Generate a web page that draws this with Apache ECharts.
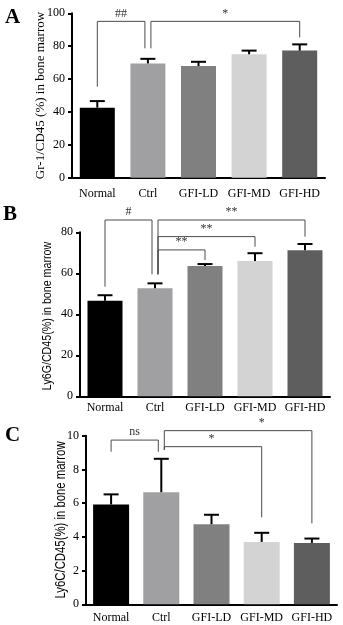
<!DOCTYPE html>
<html>
<head>
<meta charset="utf-8">
<script src="https://cdn.jsdelivr.net/npm/echarts@6/dist/echarts.min.js"></script>
<style>
html,body{margin:0;padding:0;background:#fff;}
#chart{width:343px;height:625px;}
</style>
</head>
<body>
<div id="chart"></div>
<script>
// ---- data ----
const groups = ['Normal', 'Ctrl', 'GFI-LD', 'GFI-MD', 'GFI-HD'];
const barColors = ['#000000', '#a0a0a2', '#808080', '#d3d3d3', '#5e5e5e'];

const meanA = [42.6, 69.5, 67.9, 75.1, 77.3];
const semA  = [4.0, 2.8, 2.6, 2.2, 3.8];
const meanB = [46.6, 52.7, 63.6, 66.0, 71.2];
const semB  = [2.7, 2.4, 0.9, 3.8, 3.1];
const meanC = [5.92, 6.65, 4.75, 3.70, 3.64];
const semC  = [0.60, 1.98, 0.56, 0.54, 0.26];

const ticksA = [0, 20, 40, 60, 80, 100];
const ticksB = [0, 20, 40, 60, 80];
const ticksC = [0, 2, 4, 6, 8, 10];

const titleA = 'Gr-1/CD45 (%) in bone marrow';
const titleB = 'Ly6G/CD45(%) in bone marrow';
const titleC = 'Ly6C/CD45(%) in bone marrow';

// significance brackets: compared groups, leg heights (axis units), mark
const bracketsA = [
  {from: 0, to: 1, left: 55.4, top: 95.1, right: 78.7, text: '##'},
  {from: 1, to: 4, left: 78.7, top: 95.1, right: 85.4, text: '*'}
];
const bracketsB = [
  {from: 0, to: 1, left: 53.5, top: 86.0, right: 59.5, text: '#'},
  {from: 1, to: 4, left: 59.5, top: 86.0, right: 77.9, text: '**'},
  {from: 1, to: 3, left: 59.5, top: 77.9, right: 73.0, text: '**'},
  {from: 1, to: 2, left: 59.5, top: 71.4, right: 66.5, text: '**'}
];
const bracketsC = [
  {from: 0, to: 1, left: 9.05, top: 9.74, right: 9.05, text: 'ns'},
  {from: 1, to: 4, left: 9.15, top: 10.3, right: 4.8, text: '*', at: 2.93},
  {from: 1, to: 3, left: 9.15, top: 9.35, right: 5.16, text: '*', at: 2.16}
];

// ---- chart ----
const serif = '"Liberation Serif", "Times New Roman", serif';
const sans = '"Liberation Sans", Arial, sans-serif';

const grids = [
  {left: 72, top: 13.3, width: 253, height: 164.4},
  {left: 80, top: 232.3, width: 250, height: 164},
  {left: 86, top: 435.7, width: 251, height: 168.6}
];

function xAxis(i, margin) {
  return {
    type: 'category', gridIndex: i, data: groups,
    axisLine: {lineStyle: {color: '#000', width: 2}},
    axisTick: {alignWithLabel: true, length: 4, lineStyle: {color: '#000', width: 2}},
    axisLabel: {color: '#000', fontFamily: serif, fontSize: 12, margin: margin, interval: 0}
  };
}
function yAxis(i, ticks, name, gap) {
  const ax = {
    type: 'value', gridIndex: i, min: ticks[0], max: ticks[ticks.length - 1],
    interval: ticks[1] - ticks[0],
    splitLine: {show: false},
    axisLine: {show: true, lineStyle: {color: '#000', width: 2}},
    axisTick: {show: true, length: 4, lineStyle: {color: '#000', width: 2}},
    axisLabel: {color: '#000', fontFamily: serif, fontSize: 12, margin: 7}
  };
  if (name) {
    ax.name = name; ax.nameLocation = 'middle'; ax.nameGap = gap; ax.nameMoveOverlap = false;
    ax.nameTextStyle = {color: '#000', fontFamily: serif, fontSize: 13};
  }
  return ax;
}

function barSeries(i, means, bw) {
  return {
    type: 'bar', xAxisIndex: i, yAxisIndex: i, barWidth: bw,
    data: means.map((v, k) => ({value: v, itemStyle: {color: barColors[k]}})),
    z: 2
  };
}
function errSeries(i, means, sems) {
  return {
    type: 'custom', xAxisIndex: i, yAxisIndex: i, z: 3, clip: false,
    data: means.map((m, k) => [k, m, m + sems[k]]),
    renderItem: function (params, api) {
      const p0 = api.coord([api.value(0), api.value(1)]);
      const p1 = api.coord([api.value(0), api.value(2)]);
      const style = {stroke: '#000', lineWidth: 2};
      return {type: 'group', children: [
        {type: 'line', shape: {x1: p0[0], y1: p0[1], x2: p1[0], y2: p1[1]}, style: style},
        {type: 'line', shape: {x1: p1[0] - 7.5, y1: p1[1], x2: p1[0] + 7.5, y2: p1[1]}, style: style}
      ]};
    }
  };
}
function bracketSeries(i, list, markSize) {
  return {
    type: 'custom', xAxisIndex: i, yAxisIndex: i, z: 4, clip: false, silent: true,
    data: list.map((b, k) => [b.from, b.top, k]),
    renderItem: function (params, api) {
      const b = list[api.value(2)];
      const offL = b.from === 1 ? 3 : 0;
      const offR = b.to === 1 ? -3 : 0;
      const lb = api.coord([b.from, b.left]);
      const lt = api.coord([b.from, b.top]);
      const rt = api.coord([b.to, b.top]);
      const rb = api.coord([b.to, b.right]);
      const xl = lb[0] + offL, xr = rb[0] + offR;
      const lx = b.at !== undefined ? api.coord([b.at, b.top])[0] : (xl + xr) / 2;
      return {type: 'group', children: [
        {type: 'polyline', shape: {points: [[xl, lb[1]], [xl, lt[1]], [xr, rt[1]], [xr, rb[1]]]},
         style: {stroke: '#4a4a4a', lineWidth: 1, fill: null}},
        {type: 'text', style: {text: b.text, x: lx, y: lt[1] - 2, align: 'center', verticalAlign: 'bottom',
          fill: '#333', font: markSize + 'px ' + serif}}
      ]};
    }
  };
}

function sideTitle(text, cx, cy, size, squeeze) {
  return {
    type: 'text', x: cx, y: cy, rotation: Math.PI / 2, scaleX: squeeze,
    style: {text: text, font: size + 'px ' + sans, fill: '#000', align: 'center', verticalAlign: 'middle'}
  };
}

const chart = echarts.init(document.getElementById('chart'), null, {renderer: 'canvas'});
chart.setOption({
  animation: false,
  backgroundColor: '#fff',
  grid: grids,
  xAxis: [xAxis(0, 10), xAxis(1, 6), xAxis(2, 8)],
  yAxis: [
    yAxis(0, ticksA, titleA, 24.5),
    yAxis(1, ticksB, null, 0),
    yAxis(2, ticksC, null, 0)
  ],
  series: [
    barSeries(0, meanA, 35), errSeries(0, meanA, semA), bracketSeries(0, bracketsA, 12),
    barSeries(1, meanB, 35), errSeries(1, meanB, semB), bracketSeries(1, bracketsB, 12),
    barSeries(2, meanC, 36), errSeries(2, meanC, semC), bracketSeries(2, bracketsC, 12)
  ],
  graphic: [
    {type: 'text', left: 5, top: 7, style: {text: 'A', font: 'bold 21px ' + serif, fill: '#000'}},
    {type: 'text', left: 3, top: 204, style: {text: 'B', font: 'bold 21px ' + serif, fill: '#000'}},
    {type: 'text', left: 5, top: 425, style: {text: 'C', font: 'bold 21px ' + serif, fill: '#000'}},
    sideTitle(titleB, 47, 316, 13, 0.82),
    sideTitle(titleC, 61, 520, 14, 0.81)
  ]
});
</script>
</body>
</html>
